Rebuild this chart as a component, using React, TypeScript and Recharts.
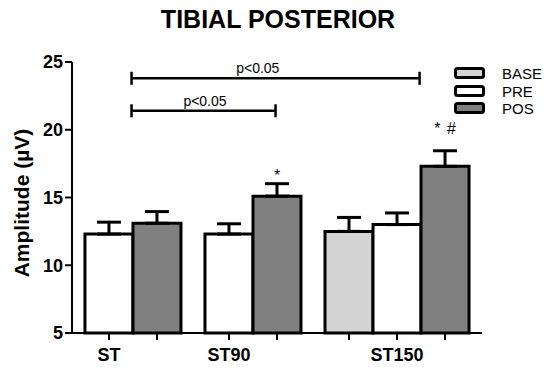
import {
  BarChart,
  Bar,
  XAxis,
  YAxis,
  ErrorBar,
  Cell,
  ReferenceLine,
  ReferenceDot,
} from "recharts";

const FONT = "'Liberation Sans', Arial, sans-serif";

const groups = ["ST", "ST90", "ST150"];
const conditions = ["BASE", "PRE", "POS"];
const conditionFill: Record<string, string> = {
  BASE: "#d3d3d3",
  PRE: "#ffffff",
  POS: "#808080",
};

// mean and SEM per group (null = condition not measured)
const baseMean = [null, null, 12.5];
const baseSem = [null, null, 1.03];
const preMean = [12.3, 12.3, 13.0];
const preSem = [0.88, 0.76, 0.86];
const posMean = [13.1, 15.1, 17.3];
const posSem = [0.86, 0.92, 1.15];
const posMarks = ["", "*", "* #"];

const yTicks = [5, 10, 15, 20, 25];

// significance brackets, x in bar-slot units
const comparisons = [
  { x1: 1.47, x2: 7.47, y: 23.8, labelX: 4.1, text: "p<0.05" },
  { x1: 1.47, x2: 4.47, y: 21.4, labelX: 3.0, text: "p<0.05" },
];

type Row = {
  x: number;
  group: string;
  cond: string;
  value: number;
  err: [number, number];
  mark: string;
};

const rows: Row[] = [];
let slot = 1;
groups.forEach((g, i) => {
  const vals: Record<string, [number | null, number | null]> = {
    BASE: [baseMean[i], baseSem[i]],
    PRE: [preMean[i], preSem[i]],
    POS: [posMean[i], posSem[i]],
  };
  conditions.forEach((c) => {
    const [m, s] = vals[c];
    if (m == null || s == null) return;
    rows.push({
      x: slot,
      group: g,
      cond: c,
      value: m,
      err: [0, s],
      mark: c === "POS" ? posMarks[i] : "",
    });
    slot += 1;
  });
  slot += 0.5;
});

const tickLabel: Record<number, string> = {};
rows.filter((r) => r.cond === "PRE").forEach((r) => (tickLabel[r.x] = r.group));

function XTick({ x, y, payload }: any) {
  const label = tickLabel[payload.value];
  if (!label) return null;
  return (
    <text x={x} y={y + 19} textAnchor="middle" fontSize={18} fontWeight="bold" fontFamily={FONT} fill="#000">
      {label}
    </text>
  );
}

function YLabel() {
  return (
    <text
      x={21}
      y={203}
      transform="rotate(-90, 21, 203)"
      textAnchor="middle"
      dy="0.36em"
      fontSize={21}
      fontWeight="bold"
      fontFamily={FONT}
      fill="#000"
    >
      Amplitude (µV)
    </text>
  );
}

function LegendBox() {
  return (
    <div
      style={{
        position: "absolute",
        left: 452,
        top: 65,
        fontFamily: FONT,
        fontSize: 15,
        color: "#000",
      }}
    >
      {conditions.map((c) => (
        <div key={c} style={{ display: "flex", alignItems: "center", height: 17.5 }}>
          <svg width={34} height={15}>
            <rect x={3.5} y={2.5} width={28} height={9} rx={2} fill={conditionFill[c]} stroke="#000" strokeWidth={3} />
          </svg>
          <span style={{ marginLeft: 16, lineHeight: "15px" }}>{c}</span>
        </div>
      ))}
    </div>
  );
}

export default function App() {
  return (
    <div style={{ position: "absolute", left: 0, top: 0, width: 550, height: 374, background: "#fff" }}>
      <div
        style={{
          position: "absolute",
          left: 0,
          top: 7,
          width: 556,
          textAlign: "center",
          fontFamily: FONT,
          fontWeight: "bold",
          fontSize: 25,
          lineHeight: "25px",
        }}
      >
        TIBIAL POSTERIOR
      </div>
      <BarChart width={550} height={374} data={rows} margin={{ top: 62, right: 68, left: 0, bottom: 0 }}>
        <XAxis
          type="number"
          dataKey="x"
          domain={[0.23, 8.77]}
          ticks={rows.map((r) => r.x)}
          interval={0}
          height={41}
          tickSize={7}
          axisLine={{ stroke: "#000", strokeWidth: 2 }}
          tickLine={{ stroke: "#000", strokeWidth: 2 }}
          tick={<XTick />}
        />
        <YAxis
          type="number"
          domain={[5, 25]}
          ticks={yTicks}
          width={72}
          tickSize={7}
          tickMargin={2}
          axisLine={{ stroke: "#000", strokeWidth: 2 }}
          tickLine={{ stroke: "#000", strokeWidth: 2 }}
          tick={{ fill: "#000", fontSize: 18, fontWeight: "bold", fontFamily: FONT }}
          label={{ content: () => <YLabel /> }}
        />
        <Bar dataKey="value" barSize={48} stroke="#000" strokeWidth={3} isAnimationActive={false}>
          {rows.map((r) => (
            <Cell key={`${r.group}-${r.cond}`} fill={conditionFill[r.cond]} />
          ))}
          <ErrorBar dataKey="err" direction="y" width={12} stroke="#000" strokeWidth={3} isAnimationActive={false} />
        </Bar>
        {comparisons.map((c, i) => [
          <ReferenceLine
            key={`h${i}`}
            segment={[{ x: c.x1, y: c.y }, { x: c.x2, y: c.y }]}
            stroke="#000"
            strokeWidth={2.5}
            ifOverflow="visible"
          />,
          <ReferenceLine
            key={`l${i}`}
            segment={[{ x: c.x1, y: c.y - 0.48 }, { x: c.x1, y: c.y + 0.48 }]}
            stroke="#000"
            strokeWidth={2.5}
            ifOverflow="visible"
          />,
          <ReferenceLine
            key={`r${i}`}
            segment={[{ x: c.x2, y: c.y - 0.48 }, { x: c.x2, y: c.y + 0.48 }]}
            stroke="#000"
            strokeWidth={2.5}
            ifOverflow="visible"
          />,
          <ReferenceDot
            key={`t${i}`}
            x={c.labelX}
            y={c.y}
            r={0}
            fill="none"
            stroke="none"
            ifOverflow="visible"
            label={{ value: c.text, position: "top", offset: 5, fontSize: 14, fill: "#000", fontFamily: FONT }}
          />,
        ])}
        {rows
          .filter((r) => r.mark)
          .map((r) => (
            <ReferenceDot
              key={`m${r.x}`}
              x={r.x}
              y={r.value + r.err[1]}
              r={0}
              fill="none"
              stroke="none"
              ifOverflow="visible"
              label={{
                value: r.mark,
                position: "top",
                offset: r.mark.includes("#") ? 17 : 3,
                fontSize: 16,
                fill: "#000",
                fontFamily: FONT,
                wordSpacing: 2,
              }}
            />
          ))}
      </BarChart>
      <LegendBox />
    </div>
  );
}
